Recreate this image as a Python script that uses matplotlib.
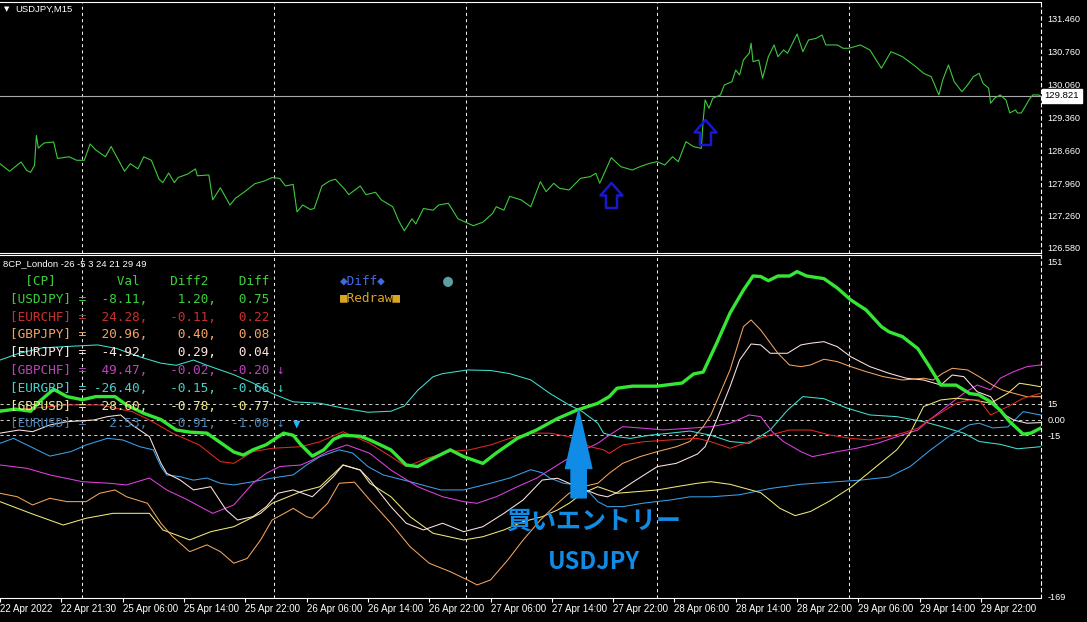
import matplotlib
matplotlib.use("Agg")
import matplotlib.pyplot as plt
from matplotlib.path import Path

W, H = 1087, 622

# ---------------- data ----------------
tick_labels = ["22 Apr 2022", "22 Apr 21:30", "25 Apr 06:00", "25 Apr 14:00", "25 Apr 22:00",
               "26 Apr 06:00", "26 Apr 14:00", "26 Apr 22:00", "27 Apr 06:00", "27 Apr 14:00",
               "27 Apr 22:00", "28 Apr 06:00", "28 Apr 14:00", "28 Apr 22:00", "29 Apr 06:00",
               "29 Apr 14:00", "29 Apr 22:00"]
tick_bars = [0, 32, 64, 96, 128, 160, 192, 224, 256, 288, 320, 352, 384, 416, 448, 480, 512]
grid_bars = [43, 143, 243, 343, 443]
n_bars = 543.3

price_bars = [0, 5, 11, 14, 16, 18, 19, 20, 23, 28, 30, 36, 40, 44, 47, 50, 55, 58, 65, 68, 72, 75, 79,
              83, 85, 88, 91, 93, 98, 102, 103, 109, 111, 115, 120, 123, 128, 133, 138, 142, 146, 149,
              153, 155, 158, 162, 164, 168, 172, 175, 180, 182, 188, 191, 196, 199, 205, 208, 211, 215,
              217, 221, 226, 229, 234, 239, 243, 247, 252, 257, 259, 263, 266, 272, 277, 282, 285, 289,
              292, 297, 303, 308, 311, 313, 319, 324, 330, 334, 339, 343, 347, 351, 354, 358, 362, 366,
              367, 368, 370, 372, 376, 378, 382, 384, 386, 388, 391, 392, 393, 396, 398, 401, 404, 406,
              409, 411, 416, 419, 422, 426, 429, 431, 437, 440, 443, 449, 454, 460, 465, 471, 478, 482,
              486, 490, 492, 495, 498, 502, 505, 508, 511, 513, 516, 517, 519, 522, 525, 527, 530, 531,
              533, 535, 537, 539, 542, 543]
price_vals = [128.375, 128.213, 128.411, 128.228, 128.191, 128.338, 128.976, 128.705, 128.816, 128.837,
              128.486, 128.522, 128.447, 128.447, 128.795, 128.667, 128.522, 128.741, 128.213, 128.375,
              128.264, 128.522, 128.447, 128.044, 127.972, 128.176, 127.972, 128.080, 128.155, 128.264,
              128.117, 128.134, 127.603, 127.861, 127.494, 127.641, 127.786, 127.948, 128.006, 128.080,
              128.059, 127.899, 127.933, 127.347, 127.494, 127.398, 127.419, 127.899, 128.006, 128.044,
              127.825, 127.714, 127.899, 127.714, 127.765, 127.603, 127.456, 127.164, 126.942, 127.200,
              127.089, 127.419, 127.383, 127.494, 127.530, 127.200, 127.127, 127.053, 127.127, 127.311,
              127.456, 127.383, 127.678, 127.603, 127.456, 127.991, 127.778, 127.957, 127.850, 127.814,
              128.063, 128.098, 128.170, 127.957, 128.503, 128.311, 128.240, 128.311, 128.383, 128.417,
              128.347, 128.524, 128.417, 128.844, 128.737, 128.703, 129.306, 129.733, 129.556, 129.769,
              129.840, 130.053, 130.123, 130.373, 130.266, 130.586, 130.729, 130.942, 130.550, 130.586,
              130.196, 130.656, 130.906, 130.656, 130.799, 130.729, 131.140, 130.763, 131.012, 131.048,
              131.119, 130.906, 130.906, 130.835, 130.835, 130.906, 130.799, 130.409, 130.763, 130.656,
              130.443, 130.302, 130.230, 129.840, 130.159, 130.479, 130.123, 129.910, 130.053, 130.230,
              130.302, 130.089, 129.982, 129.663, 129.769, 129.840, 129.733, 129.456, 129.520, 129.456,
              129.456, 129.590, 129.733, 129.840, 129.840, 129.821]
current_price = 129.821
price_ticks = [131.46, 130.76, 130.06, 129.36, 128.66, 127.96, 127.26, 126.58]
signal_bars = [319, 368]
signal_prices = [127.71, 129.05]

usdjpy_bars = [0, 8, 16, 21, 28, 35, 43, 50, 60, 66, 75, 84, 92, 99, 108, 115, 122, 127, 132, 139, 148,
               153, 157, 163, 169, 174, 179, 188, 193, 204, 212, 218, 224, 235, 242, 252, 259, 270, 280,
               291, 301, 312, 318, 322, 330, 343, 356, 362, 367, 374, 381, 388, 393, 397, 401, 406, 412,
               416, 421, 430, 437, 444, 452, 460, 464, 471, 479, 485, 491, 499, 506, 511, 517, 522, 527,
               534, 538, 543]
usdjpy_vals = [8, 10, 8, 18, 29, 22, 19, 22, 22, 14, 6, 0, -10, -12, -13, -22, -31, -34, -29, -24, -13,
               -15, -24, -35, -29, -19, -15, -16, -19.5, -29, -43.5, -45, -39, -29, -35.5, -42, -32, -18,
               -10, 1, 9, 15.6, 22, 30, 32, 32, 35, 43.7, 45.5, 73, 102, 124, 137.5, 137, 133, 137.5,
               137.5, 141.7, 137.5, 135, 126, 114.6, 105, 89, 84, 79.4, 68, 51, 33, 33, 25, 23.6, 17, 9,
               -2, -14, -13, -8.3]

eurchf_bars = [0, 17, 35, 52, 69, 78, 90, 104, 115, 122, 132, 142, 157, 167, 179, 193, 204, 212, 223,
               235, 245, 256, 266, 277, 287, 297, 308, 315, 318, 325, 336, 350, 364, 371, 381, 391, 402,
               412, 423, 433, 444, 454, 464, 471, 479, 485, 492, 499, 506, 511, 517, 526, 534, 543]
eurchf_vals = [9.2, 10.8, 14, 14, 7.6, -0.4, -13, -24.3, -40.3, -41.9, -30.7, -27.5, -26, -21.2, -11.6,
               -22.7, -35.5, -45, -37, -30.7, -29, -24.3, -18, -13, -13, -16.4, -26, -29, -32.3, -24.3,
               -21.2, -19.5, -18, -21.2, -27.5, -21.2, -14.8, -10, -10, -14.8, -18, -19.5, -16.4, -13,
               -8.3, -0.4, 7.6, 15.6, 18.8, 18.8, 4.4, 12.4, 20.4, 25.2]

gbpjpy_bars = [0, 9, 17, 26, 35, 45, 52, 60, 66, 77, 84, 90, 99, 108, 115, 122, 129, 136, 142, 150, 153,
               160, 163, 171, 177, 185, 193, 204, 214, 224, 235, 244, 249, 256, 265, 273, 282, 291, 297,
               304, 312, 318, 325, 334, 343, 353, 360, 367, 371, 381, 388, 392, 397, 406, 412, 418, 423,
               430, 437, 444, 452, 461, 471, 482, 487, 492, 497, 505, 511, 518, 523, 529, 536, 543]
gbpjpy_vals = [-70.6, -73.9, -81.8, -75.4, -78.6, -78.6, -70.6, -67.4, -73.9, -80.2, -99.3, -112, -126.5,
               -120, -126.5, -137.6, -133, -115.3, -96.2, -88.2, -85, -93, -94.5, -80.2, -61, -60, -77,
               -99.3, -121.7, -137.6, -145.7, -153.6, -158.4, -153.6, -134.5, -115.4, -96.2, -80.2, -70.6,
               -64.3, -61, -51.4, -41.9, -35.5, -30.7, -26, -21, -6.8, 4.4, 47.5, 89, 95.4, 85.8, 63.5,
               52.3, 50.7, 52.3, 57.8, 55.5, 50.7, 45.9, 41.1, 37.9, 39.6, 37.9, 44.3, 49.1, 47.5, 41.1,
               33.1, 28.4, 25.2, 21.9, 21.9]

eurjpy_bars = [0, 10, 17, 26, 35, 49, 56, 63, 69, 78, 84, 87, 94, 101, 110, 118, 124, 132, 139, 145, 153,
               163, 174, 179, 188, 193, 204, 212, 221, 231, 242, 252, 263, 273, 283, 291, 297, 304, 312,
               317, 322, 332, 343, 353, 364, 368, 374, 381, 386, 392, 397, 402, 411, 418, 423, 430, 437,
               444, 454, 464, 473, 482, 491, 497, 503, 510, 517, 523, 529, 536, 543]
eurjpy_vals = [-13, -10, -11.6, -5.2, -2, -0.4, 2.8, 4.4, -5.2, -16.4, -41.9, -51.4, -57.9, -67.4, -64.3,
               -86.6, -96.2, -93, -83.4, -70.6, -67.4, -73.9, -54.7, -43.5, -48.3, -57.9, -83.4, -99.3,
               -105.7, -99.3, -107.4, -102.6, -89.8, -77, -57.9, -56.2, -61, -66, -72, -74, -70, -57.9,
               -45.1, -41.9, -33, -26, -0.4, 31.5, 57.1, 72.4, 71.5, 63.5, 63.5, 71.5, 73.1, 74.6, 69.8,
               60.2, 50.7, 44.3, 39.6, 37.9, 33.1, 42.7, 41.1, 26.7, 21.9, 6, -0.4, -3.5, -2.9]

gbpchf_bars = [0, 14, 26, 43, 57, 66, 78, 87, 98, 111, 122, 132, 139, 146, 157, 163, 171, 181, 193, 204,
               218, 231, 242, 249, 259, 270, 280, 291, 301, 312, 318, 325, 336, 346, 360, 371, 381, 391,
               397, 403, 409, 418, 424, 437, 447, 458, 468, 479, 485, 494, 503, 510, 517, 522, 529, 536,
               543]
gbpchf_vals = [-43.5, -46.7, -53, -59.5, -61, -62.6, -56, -67.4, -77, -89.8, -81.8, -61, -51.4, -45,
               -43.5, -38.7, -30.7, -24.3, -32.3, -48.3, -64.3, -73.9, -78.6, -80.2, -73.9, -64.3, -56.2,
               -43.5, -32.3, -22.7, -14.8, -6.8, -8.3, -9.9, -8.3, -6.8, -3.5, 4.4, 2.8, -11.6, -21.2,
               -30.7, -35.5, -30.7, -27.5, -22.7, -16.4, -10, -0.4, 12.4, 25.2, 33.1, 28.4, 39.6, 45.9,
               50.7, 52.3]

eurgbp_bars = [0, 10, 22, 35, 51, 61, 73, 84, 92, 101, 108, 122, 132, 142, 153, 167, 179, 192, 204, 211,
               218, 226, 231, 244, 256, 266, 277, 287, 297, 304, 312, 315, 322, 329, 339, 350, 360, 371,
               381, 391, 402, 411, 419, 430, 442, 454, 468, 482, 492, 503, 511, 522, 531, 543]
eurgbp_vals = [57, 63.5, 68.6, 70, 71.5, 68, 60, 54, 52, 57, 52, 43, 35, 25, 17, 15.6, 11, 7, 8, 13, 28,
               41, 44, 47.5, 47, 44, 38, 25, 14, 7.6, -3.5, -13, -16.4, -18, -15, -13, -11, -15, -21,
               -22.7, -10, 9, 22, 20, 11, 4.4, 2.8, -2, -7, -13, -21, -23.7, -28, -26]

gbpusd_bars = [0, 16, 33, 45, 59, 78, 85, 99, 110, 122, 136, 142, 157, 167, 179, 188, 193, 204, 214, 226,
               242, 252, 263, 273, 283, 291, 297, 304, 312, 322, 332, 343, 353, 364, 371, 381, 397, 407,
               415, 423, 433, 444, 454, 462, 468, 475, 482, 491, 499, 508, 517, 526, 532, 538, 543]
gbpusd_vals = [-78.6, -89.8, -101, -94.5, -89.8, -89.8, -105.7, -115.3, -107.4, -102.6, -89.8, -80.2,
               -69.1, -64.3, -43.5, -48.3, -61, -73.9, -93, -108.9, -115.3, -112.2, -105.7, -97.8, -93,
               -86.6, -80.2, -70.6, -64.3, -70.6, -69.1, -67.4, -64.3, -61, -59.5, -62, -70, -85, -92,
               -88, -78, -65, -50, -38, -29, -13, 12.4, 18.8, 20.4, 18.8, 15.6, 25.2, 34.8, 33.1, 31.5]

eurusd_bars = [0, 7, 16, 26, 37, 45, 56, 64, 73, 80, 84, 87, 94, 101, 108, 115, 122, 132, 142, 153, 160,
               167, 177, 184, 192, 200, 214, 230, 242, 256, 266, 277, 283, 287, 294, 301, 308, 312, 317,
               325, 336, 350, 360, 371, 386, 402, 418, 433, 449, 464, 475, 485, 496, 506, 511, 518, 526,
               534, 543]
eurusd_vals = [-22.7, -18, -26, -35, -30.7, -24.3, -18, -19.5, -26, -29, -45, -53, -54.7, -58, -56, -61,
               -62.6, -59.5, -56, -53, -43.5, -35.5, -29, -32, -45, -53, -59.5, -67.4, -67.4, -61, -56,
               -48, -51, -56, -61, -62.6, -70.6, -78.6, -83.4, -83.4, -80, -77, -74, -74, -72, -66, -62,
               -60, -58, -55, -45, -30, -15, -5, -3.5, -8, -7, 7.6, 4.4]

pairs = ["USDJPY", "EURCHF", "GBPJPY", "EURJPY", "GBPCHF", "EURGBP", "GBPUSD", "EURUSD"]
pair_val = [-8.11, 24.28, 20.96, -4.92, 49.47, -26.40, 28.60, 2.53]
pair_diff2 = [1.20, -0.11, 0.40, 0.29, -0.02, -0.15, -0.78, -0.91]
pair_diff = [0.75, 0.22, 0.08, 0.04, -0.20, -0.66, -0.77, -1.08]
pair_down = [False, False, False, False, True, True, False, True]
level_vals = [15, 0, -15]
osc_ticks = [151, 15, 0, -15, -169]
osc_tick_labels = ["151", "15", "0.00", "-15", "-169"]
entry_bar, entry_tip, entry_tail = 302, 9, -75

# ---------------- styles ----------------
pair_colors = {"USDJPY": "#35e635", "EURCHF": "#e02a22", "GBPJPY": "#f4a460", "EURJPY": "#ffe4e1",
               "GBPCHF": "#e040e0", "EURGBP": "#40e0d0", "GBPUSD": "#f0e878", "EURUSD": "#3aa0e8"}
text_colors = {"USDJPY": "#3ccf3c", "EURCHF": "#c83030", "GBPJPY": "#f4a460", "EURJPY": "#ffe4e1",
               "GBPCHF": "#c040c0", "EURGBP": "#48d1cc", "GBPUSD": "#f0e68c", "EURUSD": "#4682b4"}
series = {"EURCHF": (eurchf_bars, eurchf_vals), "GBPJPY": (gbpjpy_bars, gbpjpy_vals),
          "EURJPY": (eurjpy_bars, eurjpy_vals), "GBPCHF": (gbpchf_bars, gbpchf_vals),
          "EURGBP": (eurgbp_bars, eurgbp_vals), "GBPUSD": (gbpusd_bars, gbpusd_vals),
          "EURUSD": (eurusd_bars, eurusd_vals)}

DASH = (0, (3, 3))
fig = plt.figure(figsize=(W / 100, H / 100), dpi=100, facecolor="black")


def fy(py):
    return 1 - py / H


ax1 = fig.add_axes([0, fy(252.5), 1041 / W, (252.5 - 2) / H], facecolor="black")
ax2 = fig.add_axes([0, fy(598), 1041 / W, (598 - 254.5) / H], facecolor="black")

for ax in (ax1, ax2):
    ax.set_xlim(0, n_bars)
    ax.spines["left"].set_visible(False)
    for s in ("top", "bottom", "right"):
        ax.spines[s].set_color("white")
        ax.spines[s].set_linewidth(0.8)
    ax.spines["right"].set_linestyle(DASH)
    for b in grid_bars:
        ax.axvline(b, color="#e8e8e8", lw=0.75, ls=DASH, zorder=1)
    ax.yaxis.tick_right()
    ax.tick_params(axis="y", length=0, pad=4.5, colors="white", labelsize=6.6)

# ---- top price panel ----
ax1.set_ylim(126.481, 131.822)
ax1.set_xticks([])
ax1.set_yticks(price_ticks)
ax1.set_yticklabels([f"{v:.3f}" for v in price_ticks], family="Liberation Sans", color="white", fontsize=6.6)
ax1.axhline(current_price, color="#a8a8a8", lw=0.8, zorder=2)
ax1.plot(price_bars, price_vals, color="#3ec83e", lw=0.8, zorder=3)

arrow_path = Path([(0, 12.5), (11, 0), (5.5, 0), (5.5, -12.5), (-5.5, -12.5), (-5.5, 0), (-11, 0), (0, 12.5)],
                  [Path.MOVETO] + [Path.LINETO] * 6 + [Path.CLOSEPOLY])
ax1.plot(signal_bars, signal_prices, ls="none", marker=arrow_path, markersize=18,
         markerfacecolor="none", markeredgecolor="#1818d0", markeredgewidth=1.8, zorder=4)
ax1.annotate(f"{current_price:.3f}", xy=(1, current_price), xycoords=ax1.get_yaxis_transform(),
             xytext=(2.5, 0), textcoords="offset points", va="center", ha="left", fontsize=6.8,
             family="Liberation Sans", color="black",
             bbox=dict(boxstyle="square,pad=0.3", fc="white", ec="white"))
fig.text(4 / W, fy(9.5), "▼", color="white", fontsize=5, va="center", ha="left")
fig.text(15 / W, fy(9.5), "USDJPY,M15", color="white", fontsize=6.8, va="center", ha="left",
         family="Liberation Sans")

# ---- oscillator panel ----
ax2.set_ylim(-170.9, 158.1)
ax2.set_yticks(osc_ticks)
ax2.set_yticklabels(osc_tick_labels, family="Liberation Sans", color="white", fontsize=6.6)
for lv in level_vals:
    ax2.axhline(lv, color="#c8c8c8", lw=0.75, ls=DASH, zorder=1)
for name in ["EURGBP", "EURUSD", "GBPCHF", "GBPUSD", "EURJPY", "GBPJPY", "EURCHF"]:
    b, v = series[name]
    ax2.plot(b, v, color=pair_colors[name], lw=0.75, zorder=3)
ax2.plot(usdjpy_bars, usdjpy_vals, color=pair_colors["USDJPY"], lw=2.4, zorder=4,
         solid_joinstyle="round")

ax2.set_xticks(tick_bars)
ax2.set_xticklabels(tick_labels, family="Liberation Sans", color="white", fontsize=7)
ax2.tick_params(axis="x", length=3, width=0.8, colors="white", pad=1.5, direction="out")
for lab in ax2.get_xticklabels():
    lab.set_horizontalalignment("left")

ax2.annotate("", xy=(entry_bar, entry_tip), xytext=(entry_bar, entry_tail),
             arrowprops=dict(arrowstyle="simple,head_length=4.2,head_width=1.9,tail_width=1.1",
                             mutation_scale=10, color="#108ce6", shrinkA=0, shrinkB=0), zorder=6)
ax2.text(entry_bar + 8, -98, "買いエントリー", color="#108ce6", fontsize=18, fontweight="bold",
         family=["Noto Sans CJK JP", "DejaVu Sans"], ha="center", va="center", zorder=6)
ax2.text(entry_bar + 8, -136, "USDJPY", color="#108ce6", fontsize=17, fontweight="bold",
         family=["Noto Sans CJK JP", "DejaVu Sans"], ha="center", va="center", zorder=6)

# indicator texts
fig.text(3 / W, fy(264), "8CP_London -26 -5 3 24 21 29 49", color="white", fontsize=6.8,
         family="Liberation Sans", va="center", ha="left")
mono = ["DejaVu Sans Mono", "DejaVu Sans"]
x0 = 9.5
header = "  [CP]" + " " * 8 + "Val" + " " * 4 + "Diff2" + " " * 4 + "Diff"
fig.text(x0 / W, fy(281), header, color=text_colors["USDJPY"], fontsize=9.2, family=mono,
         va="center", ha="left")
for i, name in enumerate(pairs):
    row = f"[{name}] ={pair_val[i]:7.2f},{pair_diff2[i]:8.2f},{pair_diff[i]:7.2f}"
    if pair_down[i]:
        row += " ↓"
    fig.text(x0 / W, fy(299.3 + 17.8 * i), row, color=text_colors[name], fontsize=9.2, family=mono,
             va="center", ha="left")
fig.text(297 / W, fy(424.5), "▼", color="#1eb4ff", fontsize=9, family=mono, va="center", ha="center")
fig.text(340 / W, fy(281), "◆Diff◆", color="#4169e1", fontsize=9.2, family=mono, va="center", ha="left")
fig.text(340 / W, fy(298), "■Redraw■", color="#daa520", fontsize=9.2, family=mono, va="center", ha="left")
fig.text(447.5 / W, fy(281), "●", color="#5f9ea0", fontsize=12, family=mono, va="center", ha="center")

fig.savefig("out.png", dpi=100, facecolor="black")
